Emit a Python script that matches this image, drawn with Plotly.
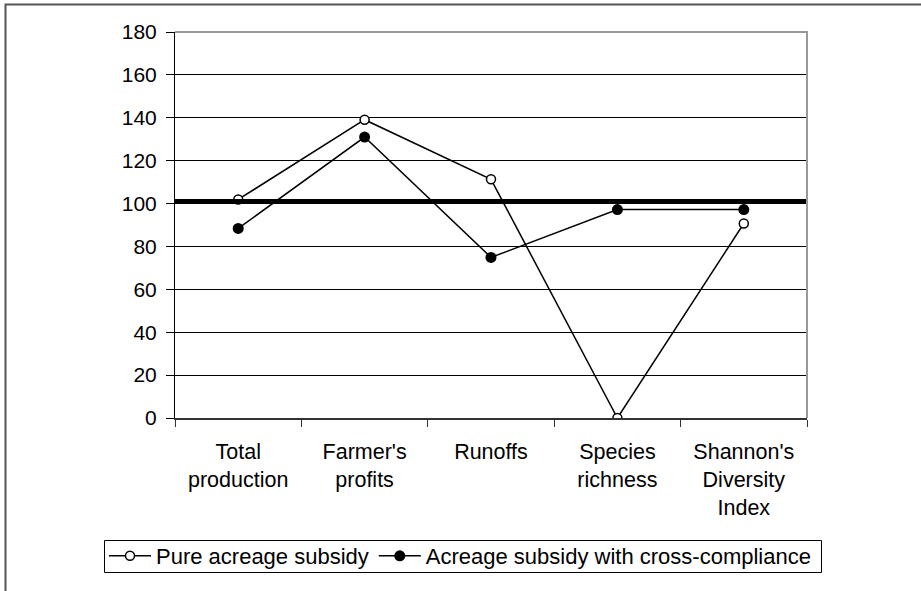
import plotly.graph_objects as go

categories = ["Total<br>production", "Farmer's<br>profits", "Runoffs", "Species<br>richness", "Shannon's<br>Diversity<br>Index"]
pure_subsidy = [101.9, 139.1, 111.3, 0.0, 90.7]
cross_compliance = [88.4, 131.0, 74.9, 97.2, 97.2]
reference_level = 101
y_ticks = [0, 20, 40, 60, 80, 100, 120, 140, 160, 180]

FONT = "Liberation Sans, Arial, sans-serif"
L, R, T, B = 175, 114, 32, 173
W, H = 921, 591
PW, PH = W - L - R, H - T - B

def px(X):
    return (X - L) / PW

def py(Y):
    return (H - B - Y) / PH

fig = go.Figure()
fig.add_trace(go.Scatter(
    x=categories, y=pure_subsidy, name="Pure acreage subsidy",
    mode="lines+markers",
    line=dict(color="black", width=1.5),
    marker=dict(symbol="circle", size=9, color="white", line=dict(color="black", width=1.5)),
))
fig.add_trace(go.Scatter(
    x=categories, y=cross_compliance, name="Acreage subsidy with cross-compliance",
    mode="lines+markers",
    line=dict(color="black", width=1.5),
    marker=dict(symbol="circle", size=11, color="black"),
))

fig.add_shape(type="line", xref="paper", yref="y", x0=0, x1=1,
              y0=reference_level, y1=reference_level,
              line=dict(color="black", width=5), layer="above")

# top/right plot border (gray)
fig.add_shape(type="path", xref="paper", yref="paper",
              path="M 0,1 L 1,1 L 1,0", line=dict(color="#999999", width=2), layer="above")

# outer chart frame
fig.add_shape(type="rect", xref="paper", yref="paper",
              x0=px(5.5), x1=px(940), y0=py(620), y1=py(4.5),
              line=dict(color="#555555", width=2), layer="above")

# legend frame
fig.add_shape(type="rect", xref="paper", yref="paper",
              x0=px(104.5), x1=px(821.5), y0=py(572.5), y1=py(540.5),
              line=dict(color="black", width=1), layer="above")

fig.update_layout(
    width=W, height=H,
    margin=dict(l=L, r=R, t=T, b=B),
    paper_bgcolor="white", plot_bgcolor="white",
    font=dict(family=FONT, size=22, color="black"),
    showlegend=True,
    legend=dict(
        orientation="h", x=px(104), y=py(556), xanchor="left", yanchor="middle",
        borderwidth=0, bgcolor="rgba(0,0,0,0)",
        font=dict(family=FONT, size=22, color="black"),
        itemwidth=42, tracegroupgap=0,
    ),
    xaxis=dict(
        type="category", range=[-0.5, 4.5],
        showgrid=False, showline=True, linecolor="#333333", linewidth=2,
        ticks="outside", tickson="boundaries", ticklen=7, tickcolor="#333333", tickwidth=1,
        tickfont=dict(family=FONT, size=21.5, color="black"),
        ticklabelstandoff=13,
        zeroline=False,
    ),
    yaxis=dict(
        range=[0, 180], tickvals=y_ticks,
        showgrid=True, gridcolor="black", gridwidth=1,
        showline=True, linecolor="black", linewidth=1,
        ticks="outside", ticklen=8, tickcolor="black",
        tickfont=dict(family=FONT, size=21, color="black"),
        ticklabelstandoff=5,
        zeroline=False,
    ),
)

fig.write_html("out.html")
